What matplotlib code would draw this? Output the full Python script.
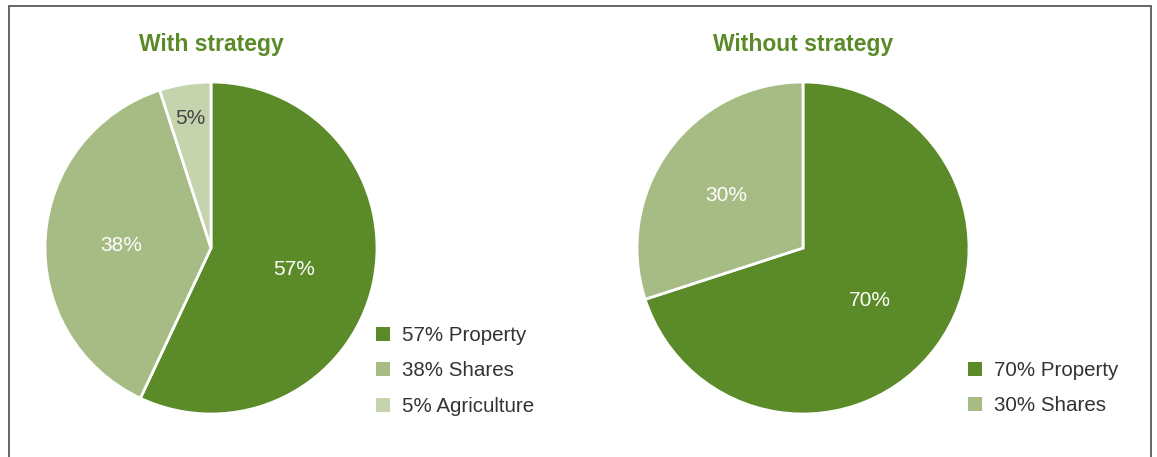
import numpy as np
import matplotlib.pyplot as plt
from matplotlib.patches import Rectangle

plt.rcParams['font.family'] = ['Liberation Sans', 'DejaVu Sans']

# Datos
titulos = ["With strategy", "Without strategy"]
categorias_1 = ["Property", "Shares", "Agriculture"]
valores_1 = [57, 38, 5]
categorias_2 = ["Property", "Shares"]
valores_2 = [70, 30]

colores = ["#5b8a28", "#a7bb85", "#c6d4ae"]
color_titulo = "#5b8a28"
color_texto = "#333333"

W, H = 1157, 457
fig = plt.figure(figsize=(W / 100, H / 100), dpi=100)

# Marco gris
fig.patches.append(Rectangle((9 / W, -0.1), (1151 - 9) / W, 1.1 - 6 / H,
                             transform=fig.transFigure, fill=False,
                             edgecolor="#5a5a5a", linewidth=1.3))


def dibujar_pie(cx, cy, r, valores, categorias, titulo, legend_xy, txt_colors, pct_dist):
    ax = fig.add_axes([(cx - r) / W, (H - cy - r) / H, 2 * r / W, 2 * r / H])
    wedges, _ = ax.pie(valores, colors=colores[:len(valores)], startangle=90,
                       counterclock=False, radius=1,
                       wedgeprops=dict(edgecolor="white", linewidth=2))
    ax.set_xlim(-1, 1)
    ax.set_ylim(-1, 1)
    ax.set_aspect("equal")
    ax.axis("off")
    # Etiquetas de porcentaje
    for w, v, c, d in zip(wedges, valores, txt_colors, pct_dist):
        ang = np.deg2rad((w.theta1 + w.theta2) / 2)
        ax.text(d * np.cos(ang), d * np.sin(ang) - 0.02, f"{v}%", ha="center",
                va="center", color=c, fontsize=15)
    fig.text(cx / W, 1 - 44 / H, titulo, ha="center", va="center",
             color=color_titulo, fontsize=16.5, fontweight="bold")
    etiquetas = [f"{v}% {c}" for v, c in zip(valores, categorias)]
    leg = fig.legend(wedges, etiquetas, loc="upper left",
                     bbox_to_anchor=(legend_xy[0] / W, 1 - legend_xy[1] / H),
                     frameon=False, fontsize=14.8, handlelength=0.7,
                     handleheight=0.7, handletextpad=0.55, labelspacing=0.8,
                     borderaxespad=0, borderpad=0, labelcolor=color_texto)
    for h in leg.legend_handles:
        h.set_edgecolor("none")


dibujar_pie(211, 248, 166, valores_1, categorias_1, titulos[0], (376, 326),
            ["white", "white", "#444444"], [0.51, 0.54, 0.81])
dibujar_pie(803, 248, 166, valores_2, categorias_2, titulos[1], (968, 361),
            ["white", "white"], [0.5, 0.57])

fig.savefig("out.png", dpi=100)
